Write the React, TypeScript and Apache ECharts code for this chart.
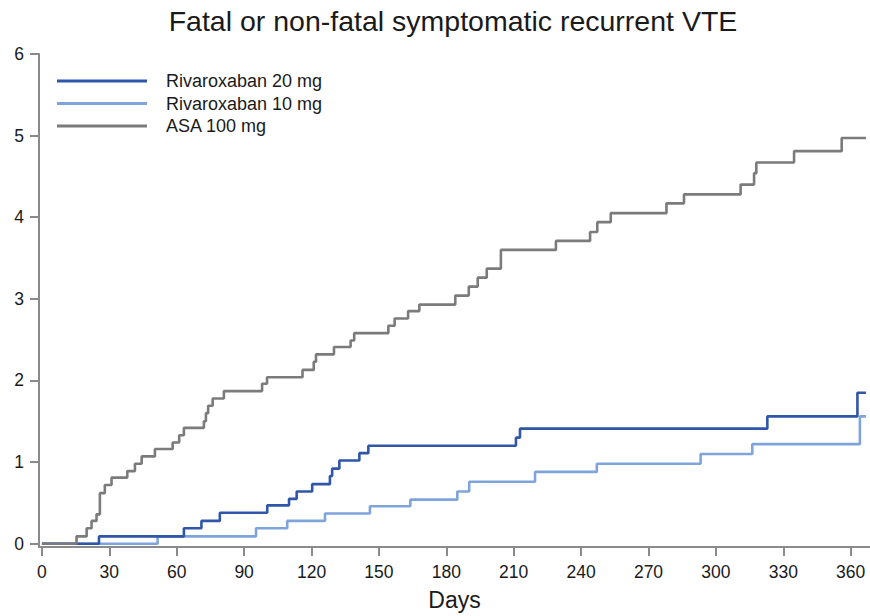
import React, { useEffect, useRef } from "react";
import * as echarts from "echarts";

const titleText = "Fatal or non-fatal symptomatic recurrent VTE";
const xTicks = [0, 30, 60, 90, 120, 150, 180, 210, 240, 270, 300, 330, 360];
const yTicks = [0, 1, 2, 3, 4, 5, 6];
const seriesNames = ["Rivaroxaban 20 mg", "Rivaroxaban 10 mg", "ASA 100 mg"];

const riva20Days = [0, 25.4, 63.2, 71, 79.2, 100.3, 110, 113.4, 120.3, 128.2, 129.2, 132.4, 141.3, 145.3, 211, 212.8, 322.9, 363, 366.8];
const riva20Risk = [0, 0.09, 0.19, 0.28, 0.38, 0.47, 0.55, 0.64, 0.73, 0.83, 0.92, 1.02, 1.11, 1.2, 1.3, 1.41, 1.56, 1.85, 1.85];

const riva10Days = [0, 51.5, 95.3, 109.2, 126, 146, 164, 184.9, 190.2, 219.5, 247, 293.2, 316.2, 364.1, 366.8];
const riva10Risk = [0, 0.09, 0.19, 0.28, 0.37, 0.46, 0.54, 0.64, 0.76, 0.88, 0.98, 1.1, 1.22, 1.56, 1.56];

const asaDays = [0, 15.4, 19.9, 22.1, 24.3, 25.8, 28, 31, 38, 41.4, 44.4, 50.3, 58.2, 61.1, 63.2, 72.1, 73, 74, 76, 81, 98, 100.2, 116, 121, 122, 130, 137.4, 139, 154.2, 157, 163, 168, 184, 190, 194, 198, 204.3, 228.8, 244, 247.2, 253.2, 278, 285.8, 311, 317, 318, 334.8, 356, 366.8];
const asaRisk = [0, 0.09, 0.19, 0.28, 0.36, 0.62, 0.72, 0.81, 0.89, 0.98, 1.07, 1.16, 1.24, 1.33, 1.42, 1.5, 1.6, 1.69, 1.78, 1.87, 1.96, 2.04, 2.13, 2.23, 2.32, 2.41, 2.49, 2.58, 2.67, 2.76, 2.85, 2.93, 3.04, 3.15, 3.26, 3.37, 3.6, 3.71, 3.82, 3.94, 4.05, 4.17, 4.28, 4.4, 4.54, 4.67, 4.81, 4.97, 4.97];

const colors = ["#2f56a8", "#7fa4dc", "#7b7b7b"];
const FONT = "'Liberation Sans', Arial, Helvetica, sans-serif";

const zip = (a: number[], b: number[]) => a.map((d, i) => [d, b[i]]);

export default function App() {
  const ref = useRef<HTMLDivElement>(null);
  useEffect(() => {
    if (!ref.current) return;
    const chart = echarts.init(ref.current, null, { renderer: "svg" });
    const axisColor = "#8a8a8a";
    const mk = (name: string, data: number[][], color: string, z: number) => ({
      name,
      type: "line",
      step: "end",
      data,
      showSymbol: false,
      symbol: "none",
      z,
      lineStyle: { color, width: 2.6 },
      itemStyle: { color },
    });
    chart.setOption({
      animation: false,
      graphic: [
        {
          type: "text",
          x: 453,
          y: 6,
          style: {
            text: titleText,
            fontSize: 28.5,
            fontFamily: FONT,
            fill: "#1a1a1a",
            align: "center",
            verticalAlign: "top",
          },
        },
      ],
      legend: {
        orient: "vertical",
        left: 57,
        top: 72,
        padding: 0,
        itemWidth: 90,
        itemHeight: 3,
        itemGap: 4.5,
        icon: "rect",
        data: seriesNames,
        textStyle: {
          fontSize: 18,
          fontFamily: FONT,
          color: "#1a1a1a",
          padding: [0, 0, 0, 14],
        },
      },
      grid: { left: 39, right: 0, top: 54, bottom: 67 },
      xAxis: {
        type: "value",
        min: -1.3,
        max: 368.6,
        name: "Days",
        nameLocation: "middle",
        nameGap: 41,
        nameTextStyle: { fontSize: 23, fontFamily: FONT, color: "#1a1a1a" },
        splitLine: { show: false },
        axisLine: { onZero: false, lineStyle: { color: axisColor, width: 2 } },
        axisTick: { show: true, customValues: xTicks, length: 9, lineStyle: { color: axisColor, width: 2 } },
        axisLabel: { customValues: xTicks, fontSize: 17.5, fontFamily: FONT, color: "#1a1a1a", margin: 16 },
      },
      yAxis: {
        type: "value",
        min: -0.04,
        max: 6,
        splitLine: { show: false },
        axisLine: { show: true, onZero: false, lineStyle: { color: axisColor, width: 2 } },
        axisTick: { show: true, customValues: yTicks, length: 9, lineStyle: { color: axisColor, width: 2 } },
        axisLabel: { customValues: yTicks, fontSize: 17.5, fontFamily: FONT, color: "#1a1a1a", margin: 15 },
      },
      series: [
        mk(seriesNames[0], zip(riva20Days, riva20Risk), colors[0], 3),
        mk(seriesNames[1], zip(riva10Days, riva10Risk), colors[1], 2),
        mk(seriesNames[2], zip(asaDays, asaRisk), colors[2], 4),
      ],
    });
    return () => chart.dispose();
  }, []);
  return (
    <div
      ref={ref}
      style={{ position: "absolute", left: 0, top: 0, width: 870, height: 616, background: "#fff" }}
    />
  );
}
